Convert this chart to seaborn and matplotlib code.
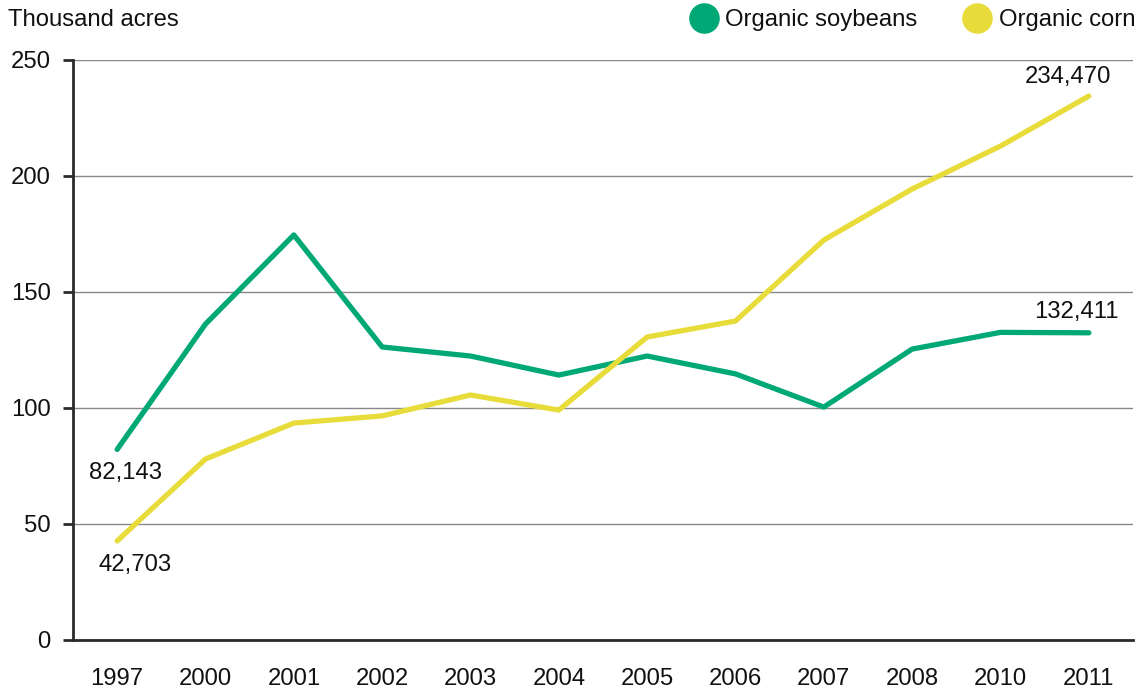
import pandas as pd
import matplotlib
matplotlib.use("Agg")
import matplotlib.pyplot as plt
from matplotlib.lines import Line2D
import seaborn as sns

years = ['1997', '2000', '2001', '2002', '2003', '2004', '2005', '2006',
         '2007', '2008', '2010', '2011']
soybeans = [82.143, 136.2, 174.6, 126.3, 122.4, 114.2, 122.4, 114.7,
            100.4, 125.4, 132.6, 132.411]
corn = [42.703, 78.0, 93.5, 96.6, 105.6, 99.1, 130.6, 137.5,
        172.4, 194.4, 212.9, 234.470]
series_names = ['Organic soybeans', 'Organic corn']
colors = ['#00A876', '#E8DC3A']

df = pd.concat([
    pd.DataFrame({'year': years, 'acres': soybeans, 'crop': series_names[0]}),
    pd.DataFrame({'year': years, 'acres': corn, 'crop': series_names[1]}),
], ignore_index=True)

sns.set_style("white")
plt.rcParams['font.family'] = ['Liberation Sans', 'DejaVu Sans']
plt.rcParams['text.color'] = '#111111'
fs = 17.2

fig = plt.figure(figsize=(11.46, 6.93), dpi=100)
ax = fig.add_axes([73 / 1146, 1 - 640 / 693, (1133 - 73) / 1146, 580 / 693])

sns.lineplot(data=df, x='year', y='acres', hue='crop', palette=colors,
             linewidth=3.8, ax=ax, legend=False, sort=False,
             solid_capstyle='round', solid_joinstyle='round')

ax.set_xlim(-0.5, len(years) - 0.5)
ax.set_ylim(0, 250)
ax.set_yticks([0, 50, 100, 150, 200, 250])
ax.yaxis.grid(True, color='#888888', linewidth=1)
ax.set_axisbelow(True)
ax.set_xlabel('')
ax.set_ylabel('')

# ticks at category boundaries, labels at centres
ax.set_xticks(range(len(years)))
ax.set_xticklabels(years)
ax.tick_params(axis='x', which='major', length=0, pad=20, labelsize=fs, colors='#111111')
ax.set_xticks([i - 0.5 for i in range(len(years) + 1)], minor=True)
ax.tick_params(axis='x', which='minor', length=7, width=2, color='#2b2b2b', direction='out')
ax.tick_params(axis='y', length=7, width=2, color='#2b2b2b', direction='out',
               labelsize=fs, labelcolor='#111111', pad=9, left=True)

for side in ['top', 'right']:
    ax.spines[side].set_visible(False)
for side in ['left', 'bottom']:
    ax.spines[side].set_color('#2b2b2b')
    ax.spines[side].set_linewidth(2)

# data labels
ax.annotate('82,143', (0, soybeans[0]), xytext=(6, -17), textcoords='offset points',
            ha='center', va='center', fontsize=fs)
ax.annotate('42,703', (0, corn[0]), xytext=(13, -17), textcoords='offset points',
            ha='center', va='center', fontsize=fs)
ax.annotate('234,470', (len(years) - 1, corn[-1]), xytext=(-15, 14), textcoords='offset points',
            ha='center', va='center', fontsize=fs)
ax.annotate('132,411', (len(years) - 1, soybeans[-1]), xytext=(-9, 15), textcoords='offset points',
            ha='center', va='center', fontsize=fs)

fig.text(8 / 1146, 1 - 20 / 693, 'Thousand acres', ha='left', va='center', fontsize=fs)

handles = [Line2D([], [], marker='o', linestyle='', markersize=21,
                  markerfacecolor=c, markeredgecolor=c) for c in colors]
fig.legend(handles, series_names, loc='center right', bbox_to_anchor=(1.0, 1 - 20 / 693),
           ncol=2, frameon=False, fontsize=fs, handletextpad=0.3, columnspacing=1.9,
           borderaxespad=0.05, handlelength=1.2)

fig.savefig('out.png', dpi=100, facecolor='white')
